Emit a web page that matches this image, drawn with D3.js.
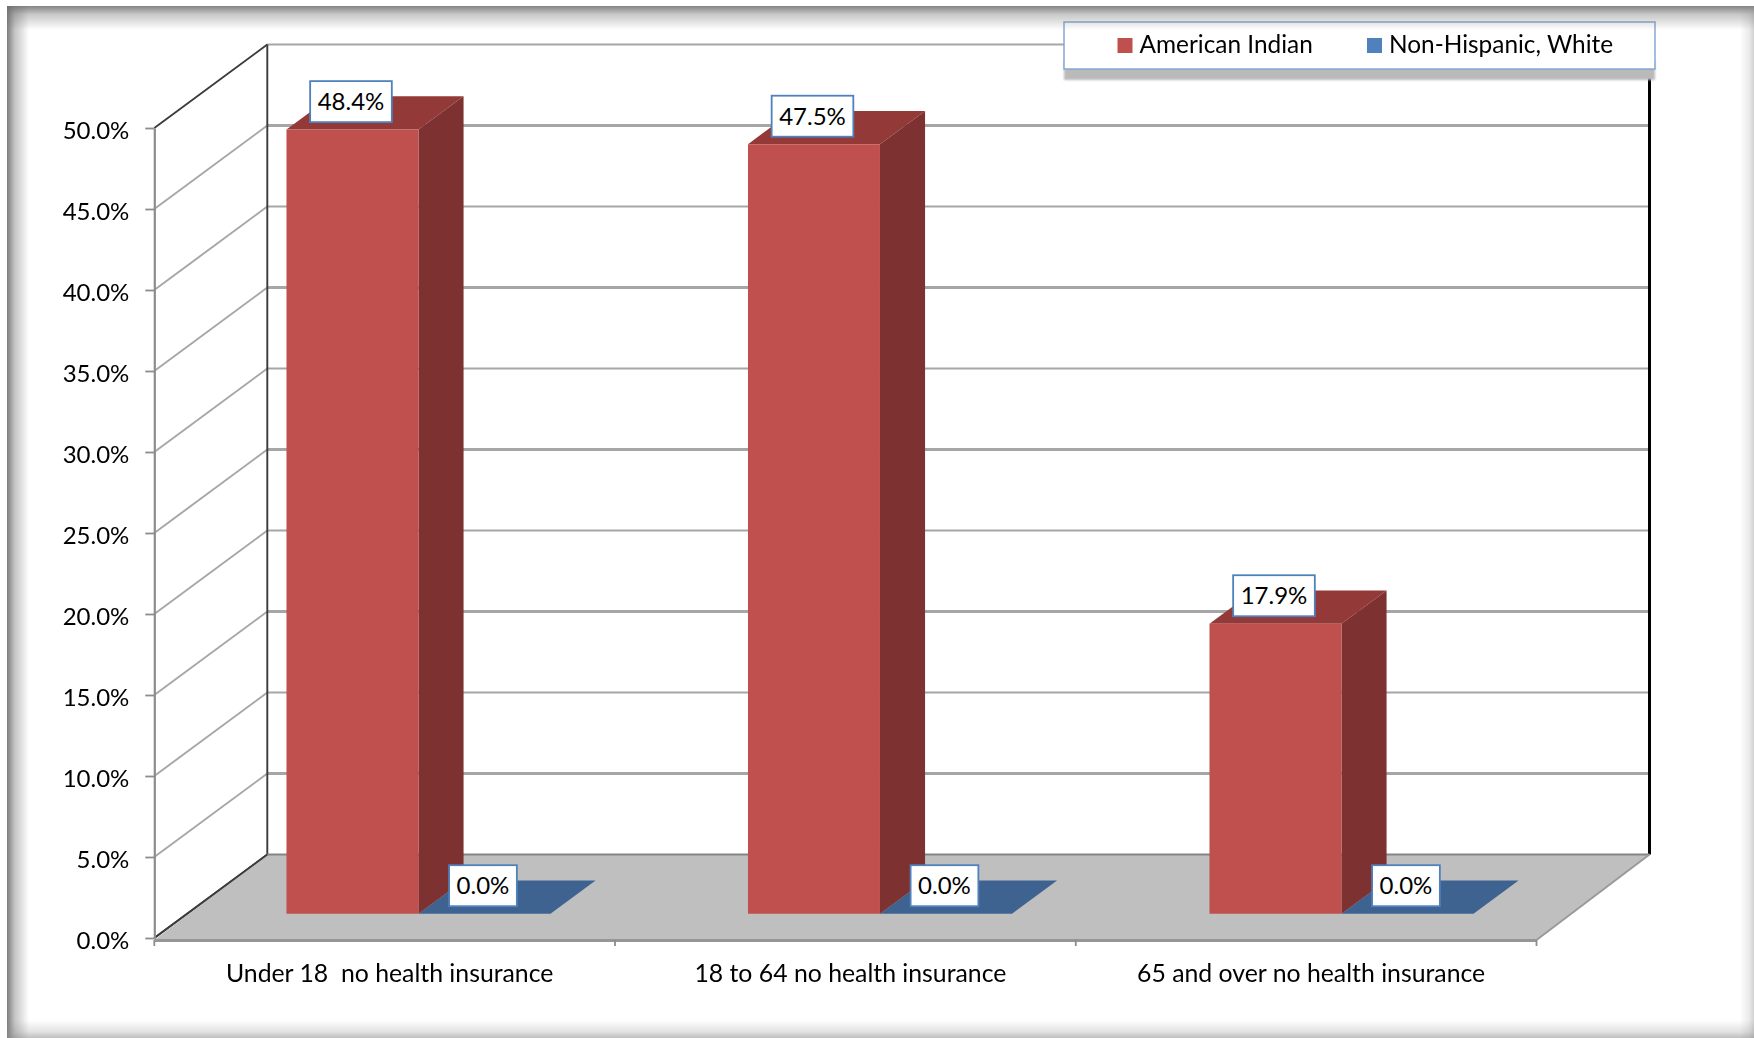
<!DOCTYPE html>
<html>
<head>
<meta charset="utf-8">
<script src="https://cdn.jsdelivr.net/npm/d3@7"></script>
<style>
html, body { margin: 0; padding: 0; background: #fff; }
svg { display: block; filter: blur(0.4px); }
text { font-family: Lato, "Open Sans", sans-serif; fill: #000; white-space: pre; }
</style>
</head>
<body>
<div id="chart"></div>
<script>
// values
const categories = ['Under 18  no health insurance', '18 to 64 no health insurance', '65 and over no health insurance'];
const series = ['American Indian', 'Non-Hispanic, White'];
const americanIndian = [48.4, 47.5, 17.9];
const nonHispanicWhite = [0.0, 0.0, 0.0];
const yTicks = [0, 5, 10, 15, 20, 25, 30, 35, 40, 45, 50];

const width = 1754, height = 1038;
const fontSize = 24;

// oblique projection: front plane plus a depth vector
const depthX = 113, depthY = -83.5;
const barDepthFront = 0.291, barDepthBack = 0.69;

const y = d3.scaleLinear().domain([0, 50]).range([938, 128]);
const xAxisScale = d3.scaleBand().domain(categories).range([154.3, 1536.5]);
const xGroup = d3.scaleBand().domain(categories).range([253.6, 1638.1]);
const xInner = d3.scaleBand().domain(series).range([0, 264]);

const colors = {
  'American Indian': { front: '#c0504d', side: '#7d3130', top: '#933a38', swatch: '#c0504d' },
  'Non-Hispanic, White': { front: '#4f81bd', side: '#31507a', top: '#3f6391', swatch: '#4f81bd' }
};

const project = (x, v, depth) => [x + depthX * depth, y(v) + depthY * depth];
const pts = a => a.map(p => p.join(',')).join(' ');

const svg = d3.select('#chart').append('svg').attr('width', width).attr('height', height);
const defs = svg.append('defs');
defs.append('filter').attr('id', 'soft').append('feGaussianBlur').attr('stdDeviation', 1);

function edgeGradient(id, x1, y1, x2, y2, color, op) {
  const g = defs.append('linearGradient').attr('id', id)
    .attr('x1', x1).attr('y1', y1).attr('x2', x2).attr('y2', y2);
  g.append('stop').attr('offset', 0).attr('stop-color', color).attr('stop-opacity', op);
  g.append('stop').attr('offset', 0.35).attr('stop-color', color).attr('stop-opacity', op * 0.45);
  g.append('stop').attr('offset', 1).attr('stop-color', color).attr('stop-opacity', 0);
}
edgeGradient('edgeL', 0, 0, 1, 0, '#6e6e6e', 0.9);
edgeGradient('edgeT', 0, 0, 0, 1, '#6e6e6e', 0.85);
edgeGradient('edgeR', 1, 0, 0, 0, '#8a8a8a', 0.4);
edgeGradient('edgeB', 0, 1, 0, 0, '#8a8a8a', 0.55);

// back wall gridlines and side wall lines
const gridX0 = 154.3, gridX1 = gridX0 + depthX;
const frontRight = xAxisScale.range()[1];
const rightX = frontRight + depthX;
const chart = svg.append('g');

chart.selectAll('.grid').data(yTicks.filter(d => d > 0)).enter().append('line')
  .attr('class', 'grid')
  .attr('x1', gridX1).attr('x2', rightX)
  .attr('y1', d => y(d) + depthY).attr('y2', d => y(d) + depthY)
  .attr('stroke', '#a6a6a6')
  .attr('stroke-width', (d, i) => d === 50 ? 2.2 : (i % 2 === 0 ? 3 : 2.1));

chart.selectAll('.wall').data(yTicks).enter().append('line')
  .attr('class', 'wall')
  .attr('x1', gridX0).attr('x2', gridX1)
  .attr('y1', d => y(d)).attr('y2', d => y(d) + depthY)
  .attr('stroke', d => (d === 50 || d === 0) ? '#3c3c3c' : '#a6a6a6')
  .attr('stroke-width', 1.9);

chart.append('line').attr('x1', gridX1).attr('x2', gridX1)
  .attr('y1', y(50) + depthY).attr('y2', y(0) + depthY)
  .attr('stroke', '#3a3a3a').attr('stroke-width', 1.9);
chart.append('line').attr('x1', rightX).attr('x2', rightX)
  .attr('y1', y(50) + depthY).attr('y2', y(0) + depthY)
  .attr('stroke', '#000').attr('stroke-width', 3);

// floor
chart.append('polygon')
  .attr('points', pts([[gridX0, y(0) + 2], [frontRight, y(0) + 2], [rightX, y(0) + depthY], [gridX1, y(0) + depthY]]))
  .attr('fill', '#bfbfbf');
chart.append('line').attr('x1', gridX1).attr('x2', rightX)
  .attr('y1', y(0) + depthY).attr('y2', y(0) + depthY)
  .attr('stroke', '#858585').attr('stroke-width', 2);
chart.append('line').attr('x1', frontRight).attr('x2', rightX)
  .attr('y1', y(0) + 2).attr('y2', y(0) + depthY)
  .attr('stroke', '#989898').attr('stroke-width', 1.8);
chart.append('line').attr('x1', gridX0).attr('x2', gridX1)
  .attr('y1', y(0)).attr('y2', y(0) + depthY)
  .attr('stroke', '#3c3c3c').attr('stroke-width', 1.8);
chart.append('line').attr('x1', gridX0).attr('x2', frontRight)
  .attr('y1', y(0) + 2.5).attr('y2', y(0) + 2.5)
  .attr('stroke', '#969696').attr('stroke-width', 2.8);

// y axis
const yAxis = chart.append('g').attr('transform', `translate(${gridX0},0)`)
  .call(d3.axisLeft(y).tickValues(yTicks).tickFormat(d => d.toFixed(1) + '%')
    .tickSize(9).tickSizeOuter(0).tickPadding(16));
yAxis.select('.domain').attr('stroke', '#8c8c8c').attr('stroke-width', 2.2);
yAxis.selectAll('.tick line').attr('stroke', '#8c8c8c').attr('stroke-width', 1.8);
yAxis.selectAll('.tick text').attr('font-size', fontSize).attr('y', 1.6).attr('dy', '0.35em');

// x axis labels and tick marks on the category edges
const xAxis = chart.append('g').attr('transform', `translate(5,${y(0) + 2})`)
  .call(d3.axisBottom(xAxisScale).tickSize(0).tickPadding(24));
xAxis.select('.domain').remove();
xAxis.selectAll('.tick text').attr('font-size', 24.8).attr('dy', '0.71em');

const xEdges = categories.map(c => xAxisScale(c)).concat([frontRight]);
chart.selectAll('.xtick').data(xEdges).enter().append('line')
  .attr('class', 'xtick')
  .attr('x1', d => d).attr('x2', d => d)
  .attr('y1', y(0) + 2).attr('y2', y(0) + 8)
  .attr('stroke', '#8c8c8c').attr('stroke-width', 1.8);

// bars, blue first so the red side face sits on top of it
const barRows = [];
[1, 0].forEach(s => {
  const vals = s === 0 ? americanIndian : nonHispanicWhite;
  categories.forEach((c, i) => barRows.push({ series: series[s], cat: c, value: vals[i] }));
});
const barW = xInner.bandwidth();
const bars = chart.selectAll('.bar').data(barRows).enter().append('g').attr('class', 'bar');
const bx = d => xGroup(d.cat) + xInner(d.series);

bars.append('polygon')
  .attr('points', d => pts([
    project(bx(d), d.value, barDepthFront),
    project(bx(d) + barW, d.value, barDepthFront),
    project(bx(d) + barW, d.value, barDepthBack),
    project(bx(d), d.value, barDepthBack)]))
  .attr('fill', d => colors[d.series].top);
bars.filter(d => d.value > 0).append('polygon')
  .attr('points', d => pts([
    project(bx(d) + barW, 0, barDepthFront),
    project(bx(d) + barW, d.value, barDepthFront),
    project(bx(d) + barW, d.value, barDepthBack),
    project(bx(d) + barW, 0, barDepthBack)]))
  .attr('fill', d => colors[d.series].side);
bars.filter(d => d.value > 0).append('polygon')
  .attr('points', d => pts([
    project(bx(d), 0, barDepthFront),
    project(bx(d) + barW, 0, barDepthFront),
    project(bx(d) + barW, d.value, barDepthFront),
    project(bx(d), d.value, barDepthFront)]))
  .attr('fill', d => colors[d.series].front);

// value labels in white boxes
const labels = chart.selectAll('.vlabel').data(barRows).enter().append('g').attr('class', 'vlabel')
  .attr('transform', d => {
    const p = project(bx(d) + barW / 2, d.value, barDepthFront);
    return `translate(${p[0] - 1.5},${p[1] - 28})`;
  });
labels.append('rect').attr('fill', '#fff').attr('stroke', '#4f81bd').attr('stroke-width', 1.8);
labels.append('text').attr('text-anchor', 'middle').attr('dy', '0.35em').attr('font-size', fontSize)
  .text(d => d.value.toFixed(1) + '%');
labels.each(function () {
  const w = this.querySelector('text').getComputedTextLength() + 15;
  d3.select(this).select('rect').attr('x', -w / 2).attr('y', -20.5).attr('width', w).attr('height', 41);
});

// legend
const legend = svg.append('g');
legend.append('rect').attr('x', 1064).attr('y', 60).attr('width', 591).attr('height', 20)
  .attr('fill', '#bababa').attr('filter', 'url(#soft)');
legend.append('rect').attr('x', 1064).attr('y', 22).attr('width', 591).attr('height', 47)
  .attr('fill', '#fff').attr('stroke', '#7ea3d3').attr('stroke-width', 1.4);
const legendX = d3.scaleOrdinal().domain(series).range([1117.5, 1367]);
const legendItems = legend.selectAll('.item').data(series).enter().append('g').attr('class', 'item')
  .attr('transform', d => `translate(${legendX(d)},38)`);
legendItems.append('rect').attr('width', 15).attr('height', 15).attr('fill', d => colors[d].swatch);
legendItems.append('text').attr('x', 22).attr('y', 6.5).attr('dy', '0.35em').attr('font-size', 24.4).text(d => d);

// soft inner shadow of the picture frame
const frame = svg.append('g').attr('pointer-events', 'none');
frame.append('rect').attr('x', 7).attr('y', 6).attr('width', 22).attr('height', height - 6).attr('fill', 'url(#edgeL)');
frame.append('rect').attr('x', 7).attr('y', 6).attr('width', width - 7).attr('height', 24).attr('fill', 'url(#edgeT)');
frame.append('rect').attr('x', width - 14).attr('y', 6).attr('width', 14).attr('height', height - 6).attr('fill', 'url(#edgeR)');
frame.append('rect').attr('x', 7).attr('y', height - 18).attr('width', width - 7).attr('height', 18).attr('fill', 'url(#edgeB)');
</script>
</body>
</html>
